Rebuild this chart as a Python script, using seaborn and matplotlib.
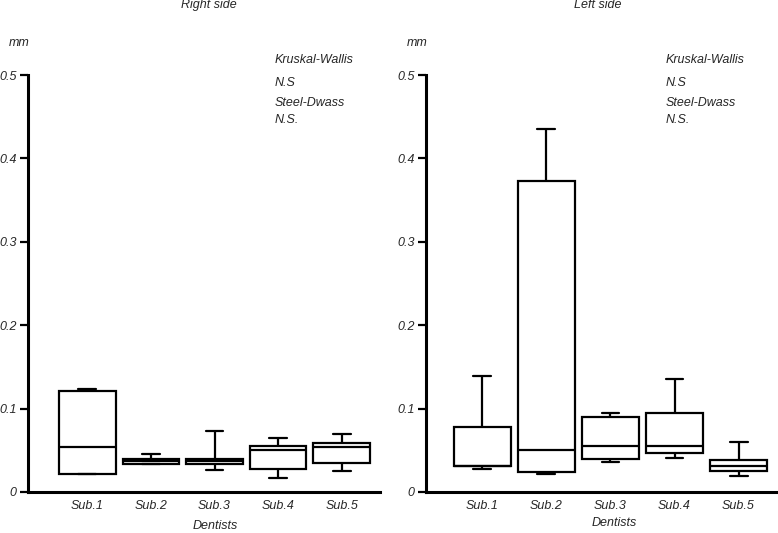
import matplotlib
matplotlib.use("Agg")
import matplotlib.pyplot as plt
import seaborn as sns
import pandas as pd

categories = ["Sub.1", "Sub.2", "Sub.3", "Sub.4", "Sub.5"]

# five-number summaries per dentist (min, q1, median, q3, max), in mm
right_min = [0.0212, 0.0335, 0.0264, 0.0172, 0.0248]
right_q1 = [0.0212, 0.0340, 0.0340, 0.0276, 0.0348]
right_med = [0.0540, 0.0370, 0.0376, 0.0508, 0.0543]
right_q3 = [0.1215, 0.0396, 0.0396, 0.0550, 0.0590]
right_max = [0.1240, 0.0460, 0.0730, 0.0648, 0.0695]

left_min = [0.0272, 0.0212, 0.0360, 0.0410, 0.0196]
left_q1 = [0.0308, 0.0240, 0.0392, 0.0464, 0.0252]
left_med = [0.0308, 0.0508, 0.0550, 0.0550, 0.0316]
left_q3 = [0.0776, 0.3730, 0.0896, 0.0944, 0.0380]
left_max = [0.1390, 0.4350, 0.0944, 0.1360, 0.0600]

yticks = [0, 0.1, 0.2, 0.3, 0.4, 0.5]
ytick_labels = ["0", "0.1", "0.2", "0.3", "0.4", "0.5"]

panel_titles = ["Right side", "Left side"]
stat_lines = ["Kruskal-Wallis", "N.S", "Steel-Dwass", "N.S."]
x_title = "Dentists"
unit = "mm"


def long_frame(mins, q1s, meds, q3s, maxs):
    rows = []
    for c, a, b, m, d, e in zip(categories, mins, q1s, meds, q3s, maxs):
        for v in (a, b, m, d, e):
            rows.append({"group": c, "value": v})
    return pd.DataFrame(rows)


sns.set_style("ticks")
plt.rcParams["font.family"] = ["Liberation Sans", "DejaVu Sans"]
plt.rcParams["font.style"] = "italic"

W, H = 778, 533
fig = plt.figure(figsize=(W / 100, H / 100), dpi=100)
fig.patch.set_facecolor("white")

ax_r = fig.add_axes([28 / W, 41 / H, 352 / W, 417 / H])
ax_l = fig.add_axes([426 / W, 41 / H, 351 / W, 417 / H])

frames = [
    long_frame(right_min, right_q1, right_med, right_q3, right_max),
    long_frame(left_min, left_q1, left_med, left_q3, left_max),
]
xlims = [(-0.93, 4.6), (-0.88, 4.6)]

for ax, df, xl in zip([ax_r, ax_l], frames, xlims):
    sns.boxplot(data=df, x="group", y="value", order=categories, ax=ax,
                whis=(0, 100), width=0.89, color="white", linecolor="black",
                linewidth=1.6, fliersize=0, capwidths=0.28)
    ax.set_xlabel("")
    ax.set_ylabel("")
    ax.set_ylim(0, 0.5)
    ax.set_xlim(*xl)
    ax.set_yticks(yticks)
    ax.set_yticklabels(ytick_labels)
    ax.tick_params(axis="x", length=0, pad=6, labelsize=9)
    ax.tick_params(axis="y", length=6, width=1.6, pad=2, labelsize=9, color="black")
    sns.despine(ax=ax)
    for s in ("left", "bottom"):
        ax.spines[s].set_linewidth(2.2)
        ax.spines[s].set_color("black")
    ax.set_facecolor("white")


def fx(px):
    return px / W


def fy(py):
    return 1 - py / H


# titles
fig.text(fx(209), fy(5), panel_titles[0], ha="center", va="center", fontsize=9, style="italic")
fig.text(fx(598), fy(5), panel_titles[1], ha="center", va="center", fontsize=9, style="italic")

# units
fig.text(fx(19), fy(43), unit, ha="center", va="center", fontsize=9, style="italic")
fig.text(fx(417), fy(43), unit, ha="center", va="center", fontsize=9, style="italic")

# statistics annotations
ys = [60, 82.5, 102.7, 120]
for x0 in (275, 666):
    for yy, t in zip(ys, stat_lines):
        fig.text(fx(x0), fy(yy), t, ha="left", va="center", fontsize=9, style="italic")

# x axis titles
fig.text(fx(215), fy(526), x_title, ha="center", va="center", fontsize=9, style="italic")
fig.text(fx(614), fy(523), x_title, ha="center", va="center", fontsize=9, style="italic")

fig.savefig("out.png", dpi=100, facecolor="white")
